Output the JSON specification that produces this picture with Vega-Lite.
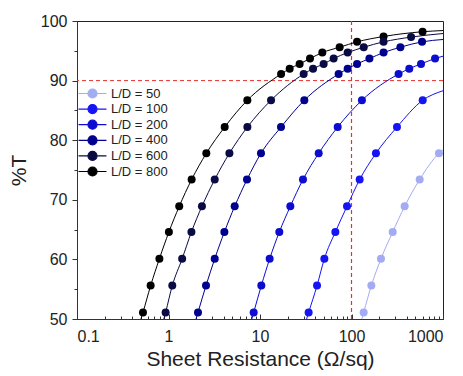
{
  "$schema": "https://vega.github.io/schema/vega-lite/v6.json",
  "width": 366,
  "height": 298,
  "autosize": "none",
  "padding": {"left": 77, "top": 21, "right": 20, "bottom": 57},
  "background": "white",
  "config": {
    "view": {"stroke": "#222", "strokeWidth": 1},
    "font": "Liberation Sans",
    "axis": {"grid": false, "domainColor": "#333", "tickColor": "#333", "labelColor": "#222", "titleColor": "#222", "labelFont": "Liberation Sans", "titleFont": "Liberation Sans", "titleFontWeight": "normal"},
    "legend": {"title": null, "orient": "none", "legendX": 9, "legendY": 66, "labelFontSize": 13, "labelColor": "#222", "labelFont": "Liberation Sans",
      "symbolType": "M-3.1,0H-1A1,1 0 1,1 1,0A1,1 0 1,1 -1,0M1,0H3.1",
      "symbolSize": 81, "symbolStrokeWidth": 1.2, "rowPadding": 0.6, "labelOffset": 12}
  },
  "datasets": {
    "curves": [
      {"ld": "L/D = 800", "kind": "end", "R": 0.50, "T": 50},
      {"ld": "L/D = 800", "kind": "pt", "R": 0.526, "T": 51.1},
      {"ld": "L/D = 800", "kind": "pt", "R": 0.638, "T": 55.6},
      {"ld": "L/D = 800", "kind": "pt", "R": 0.795, "T": 60.1},
      {"ld": "L/D = 800", "kind": "pt", "R": 1.01, "T": 64.6},
      {"ld": "L/D = 800", "kind": "pt", "R": 1.31, "T": 68.9},
      {"ld": "L/D = 800", "kind": "pt", "R": 1.79, "T": 73.4},
      {"ld": "L/D = 800", "kind": "pt", "R": 2.59, "T": 77.8},
      {"ld": "L/D = 800", "kind": "pt", "R": 4.11, "T": 82.2},
      {"ld": "L/D = 800", "kind": "pt", "R": 7.27, "T": 86.7},
      {"ld": "L/D = 800", "kind": "pt", "R": 17.0, "T": 91.1},
      {"ld": "L/D = 800", "kind": "pt", "R": 21.1, "T": 92.0},
      {"ld": "L/D = 800", "kind": "pt", "R": 27.1, "T": 92.8},
      {"ld": "L/D = 800", "kind": "pt", "R": 35.2, "T": 93.7},
      {"ld": "L/D = 800", "kind": "pt", "R": 48.0, "T": 94.7},
      {"ld": "L/D = 800", "kind": "pt", "R": 74.2, "T": 95.6},
      {"ld": "L/D = 800", "kind": "pt", "R": 115, "T": 96.5},
      {"ld": "L/D = 800", "kind": "pt", "R": 224, "T": 97.4},
      {"ld": "L/D = 800", "kind": "pt", "R": 598, "T": 98.2},
      {"ld": "L/D = 800", "kind": "end", "R": 1000, "T": 98.4},

      {"ld": "L/D = 600", "kind": "end", "R": 0.89, "T": 50},
      {"ld": "L/D = 600", "kind": "pt", "R": 0.93, "T": 51.1},
      {"ld": "L/D = 600", "kind": "pt", "R": 1.10, "T": 55.6},
      {"ld": "L/D = 600", "kind": "pt", "R": 1.41, "T": 60.1},
      {"ld": "L/D = 600", "kind": "pt", "R": 1.78, "T": 64.6},
      {"ld": "L/D = 600", "kind": "pt", "R": 2.32, "T": 68.9},
      {"ld": "L/D = 600", "kind": "pt", "R": 3.20, "T": 73.4},
      {"ld": "L/D = 600", "kind": "pt", "R": 4.63, "T": 77.8},
      {"ld": "L/D = 600", "kind": "pt", "R": 7.28, "T": 82.2},
      {"ld": "L/D = 600", "kind": "pt", "R": 13.2, "T": 86.7},
      {"ld": "L/D = 600", "kind": "pt", "R": 30.0, "T": 91.1},
      {"ld": "L/D = 600", "kind": "pt", "R": 38.0, "T": 92.0},
      {"ld": "L/D = 600", "kind": "pt", "R": 49.6, "T": 92.8},
      {"ld": "L/D = 600", "kind": "pt", "R": 63.8, "T": 93.7},
      {"ld": "L/D = 600", "kind": "pt", "R": 90.8, "T": 94.7},
      {"ld": "L/D = 600", "kind": "pt", "R": 136, "T": 95.6},
      {"ld": "L/D = 600", "kind": "pt", "R": 224, "T": 96.5},
      {"ld": "L/D = 600", "kind": "pt", "R": 448, "T": 97.3},
      {"ld": "L/D = 600", "kind": "end", "R": 1000, "T": 97.9},

      {"ld": "L/D = 400", "kind": "end", "R": 2.0, "T": 50},
      {"ld": "L/D = 400", "kind": "pt", "R": 2.10, "T": 51.1},
      {"ld": "L/D = 400", "kind": "pt", "R": 2.57, "T": 55.6},
      {"ld": "L/D = 400", "kind": "pt", "R": 3.20, "T": 60.1},
      {"ld": "L/D = 400", "kind": "pt", "R": 4.08, "T": 64.6},
      {"ld": "L/D = 400", "kind": "pt", "R": 5.29, "T": 68.9},
      {"ld": "L/D = 400", "kind": "pt", "R": 7.21, "T": 73.4},
      {"ld": "L/D = 400", "kind": "pt", "R": 10.25, "T": 77.8},
      {"ld": "L/D = 400", "kind": "pt", "R": 16.96, "T": 82.2},
      {"ld": "L/D = 400", "kind": "pt", "R": 30.5, "T": 86.7},
      {"ld": "L/D = 400", "kind": "pt", "R": 72.3, "T": 91.1},
      {"ld": "L/D = 400", "kind": "pt", "R": 90.8, "T": 92.0},
      {"ld": "L/D = 400", "kind": "pt", "R": 115, "T": 92.8},
      {"ld": "L/D = 400", "kind": "pt", "R": 157, "T": 93.7},
      {"ld": "L/D = 400", "kind": "pt", "R": 224, "T": 94.7},
      {"ld": "L/D = 400", "kind": "pt", "R": 342, "T": 95.6},
      {"ld": "L/D = 400", "kind": "pt", "R": 590, "T": 96.5},
      {"ld": "L/D = 400", "kind": "end", "R": 1000, "T": 96.9},

      {"ld": "L/D = 200", "kind": "end", "R": 8.14, "T": 50},
      {"ld": "L/D = 200", "kind": "pt", "R": 8.53, "T": 51.1},
      {"ld": "L/D = 200", "kind": "pt", "R": 10.34, "T": 55.6},
      {"ld": "L/D = 200", "kind": "pt", "R": 12.75, "T": 60.1},
      {"ld": "L/D = 200", "kind": "pt", "R": 16.26, "T": 64.6},
      {"ld": "L/D = 200", "kind": "pt", "R": 21.45, "T": 68.9},
      {"ld": "L/D = 200", "kind": "pt", "R": 29.5, "T": 73.4},
      {"ld": "L/D = 200", "kind": "pt", "R": 43.8, "T": 77.8},
      {"ld": "L/D = 200", "kind": "pt", "R": 70.6, "T": 82.2},
      {"ld": "L/D = 200", "kind": "pt", "R": 130, "T": 86.7},
      {"ld": "L/D = 200", "kind": "pt", "R": 327, "T": 91.1},
      {"ld": "L/D = 200", "kind": "pt", "R": 428, "T": 92.0},
      {"ld": "L/D = 200", "kind": "pt", "R": 575, "T": 92.8},
      {"ld": "L/D = 200", "kind": "pt", "R": 819, "T": 93.7},
      {"ld": "L/D = 200", "kind": "end", "R": 1000, "T": 94.1},

      {"ld": "L/D = 100", "kind": "end", "R": 32.3, "T": 50},
      {"ld": "L/D = 100", "kind": "pt", "R": 34.0, "T": 51.1},
      {"ld": "L/D = 100", "kind": "pt", "R": 42.0, "T": 55.6},
      {"ld": "L/D = 100", "kind": "pt", "R": 50.5, "T": 60.1},
      {"ld": "L/D = 100", "kind": "pt", "R": 66.6, "T": 64.6},
      {"ld": "L/D = 100", "kind": "pt", "R": 89.3, "T": 68.9},
      {"ld": "L/D = 100", "kind": "pt", "R": 122.8, "T": 73.4},
      {"ld": "L/D = 100", "kind": "pt", "R": 185, "T": 77.8},
      {"ld": "L/D = 100", "kind": "pt", "R": 314, "T": 82.2},
      {"ld": "L/D = 100", "kind": "pt", "R": 600, "T": 86.7},
      {"ld": "L/D = 100", "kind": "end", "R": 1000, "T": 88.3},

      {"ld": "L/D = 50", "kind": "end", "R": 129.6, "T": 50},
      {"ld": "L/D = 50", "kind": "pt", "R": 135.8, "T": 51.1},
      {"ld": "L/D = 50", "kind": "pt", "R": 164.8, "T": 55.6},
      {"ld": "L/D = 50", "kind": "pt", "R": 210, "T": 60.1},
      {"ld": "L/D = 50", "kind": "pt", "R": 282, "T": 64.6},
      {"ld": "L/D = 50", "kind": "pt", "R": 381, "T": 68.9},
      {"ld": "L/D = 50", "kind": "pt", "R": 556, "T": 73.4},
      {"ld": "L/D = 50", "kind": "pt", "R": 903, "T": 77.8},
      {"ld": "L/D = 50", "kind": "end", "R": 1000, "T": 78.4}
    ]
  },
  "layer": [
    {
      "data": {"values": [{"T": 90}]},
      "mark": {"type": "rule", "stroke": "#e8302c", "strokeWidth": 1, "strokeDash": [4, 3]},
      "encoding": {
        "y": {"field": "T", "type": "quantitative", "scale": {"domain": [50, 100], "nice": false, "zero": false},
          "axis": {"values": [50, 60, 70, 80, 90, 100], "title": "%T", "titleFontSize": 21, "labelFontSize": 16, "tickSize": 5, "labelPadding": 5, "titlePadding": 11, "orient": "left"}}
      }
    },
    {
      "data": {"values": [{"R": 100}]},
      "mark": {"type": "rule", "stroke": "#e8302c", "strokeWidth": 1.2, "strokeDash": [4, 3]},
      "encoding": {
        "x": {"field": "R", "type": "quantitative", "scale": {"type": "log", "domain": [0.1, 1000], "nice": false},
          "axis": {"values": [0.1, 1, 10, 100, 1000], "format": "~g", "title": "Sheet Resistance (Ω/sq)", "titleFontSize": 21, "labelFontSize": 16, "tickSize": -5, "labelPadding": 14, "titlePadding": 4, "orient": "bottom"}}
      }
    },
    {
      "data": {"name": "curves"},
      "mark": {"type": "line", "interpolate": "monotone", "strokeWidth": 1, "clip": true},
      "encoding": {
        "x": {"field": "R", "type": "quantitative", "scale": {"type": "log", "domain": [0.1, 1000], "nice": false},
          "axis": {"values": [0.2, 0.3, 0.4, 0.5, 0.6, 0.7, 0.8, 0.9, 2, 3, 4, 5, 6, 7, 8, 9, 20, 30, 40, 50, 60, 70, 80, 90, 200, 300, 400, 500, 600, 700, 800, 900], "labels": false, "domain": false, "title": null, "tickSize": -3, "orient": "bottom"}},
        "y": {"field": "T", "type": "quantitative", "scale": {"domain": [50, 100], "nice": false, "zero": false},
          "axis": {"values": [55, 65, 75, 85, 95], "labels": false, "domain": false, "title": null, "tickSize": 3, "orient": "left"}},
        "color": {"field": "ld", "type": "nominal",
          "scale": {"domain": ["L/D = 50", "L/D = 100", "L/D = 200", "L/D = 400", "L/D = 600", "L/D = 800"],
            "range": ["#a3acf2", "#1414f5", "#0c0cd0", "#00008e", "#0a0a45", "#000000"]},
          "legend": {"encode": {"symbols": {"update": {"fill": {"scale": "color", "field": "value"}, "stroke": {"scale": "color", "field": "value"}, "fillOpacity": {"value": 1}, "strokeOpacity": {"value": 1}}}}}},
        "detail": {"field": "ld"}
      }
    },
    {
      "data": {"name": "curves"},
      "transform": [{"filter": "datum.kind == 'pt'"}],
      "mark": {"type": "point", "shape": "circle", "filled": true, "size": 64, "opacity": 1},
      "encoding": {
        "x": {"field": "R", "type": "quantitative", "axis": null},
        "y": {"field": "T", "type": "quantitative", "axis": null},
        "color": {"field": "ld", "type": "nominal",
          "legend": {"encode": {"symbols": {"update": {"fill": {"scale": "color", "field": "value"}, "stroke": {"scale": "color", "field": "value"}, "fillOpacity": {"value": 1}, "strokeOpacity": {"value": 1}}}}}}
      }
    }
  ],
  "resolve": {"axis": {"x": "independent", "y": "independent"}}
}
